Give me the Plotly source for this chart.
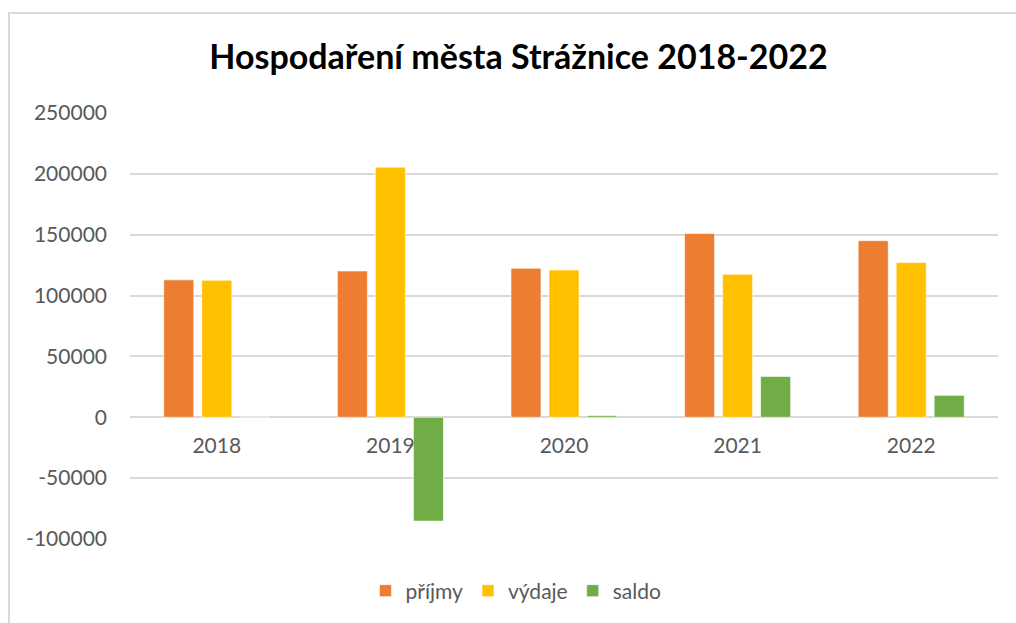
import plotly.graph_objects as go

years = ["2018", "2019", "2020", "2021", "2022"]
prijmy = [112900, 120200, 122400, 151100, 145100]
vydaje = [112600, 205500, 121000, 117500, 127100]
saldo = [300, -85300, 1400, 33600, 18000]
y_ticks = [-100000, -50000, 0, 50000, 100000, 150000, 200000, 250000]
y_labels = [str(v) for v in y_ticks]

W, H = 1016, 623
ML, MR, MT, MB = 130, 18, 113, 84
PW, PH = W - ML - MR, H - MT - MB

def px_x(p):
    return (p - ML) / PW

def px_y(p):
    return (H - MB - p) / PH

fig = go.Figure()
line = dict(color="rgba(255,255,255,0.6)", width=1)
fig.add_trace(go.Bar(x=years, y=prijmy, name="příjmy", marker=dict(color="#ED7D31", line=line)))
fig.add_trace(go.Bar(x=years, y=vydaje, name="výdaje", marker=dict(color="#FFC000", line=line)))
fig.add_trace(go.Bar(x=years, y=saldo, name="saldo", marker=dict(color="#70AD47", line=line)))

fig.update_layout(
    width=W, height=H,
    margin=dict(l=ML, r=MR, t=MT, b=MB),
    paper_bgcolor="white", plot_bgcolor="white",
    barmode="group", bargap=0.343, bargroupgap=0.21,
    font=dict(family="Lato", size=21, color="#595959"),
    title=dict(
        text="<b>Hospodaření města Strážnice 2018-2022</b>",
        font=dict(family="Lato", size=34, color="#000000"),
        x=518.5 / W, xref="container", xanchor="center",
        y=1 - 57 / H, yref="container", yanchor="middle",
    ),
    showlegend=True,
    legend=dict(
        orientation="h", x=px_x(516), xanchor="center",
        y=px_y(591), yanchor="middle",
        font=dict(family="Lato", size=21, color="#595959"),
        bgcolor="rgba(0,0,0,0)",
    ),
    xaxis=dict(
        anchor="free", position=100000 / 350000,
        showgrid=False, showline=False, zeroline=False,
        ticks="", ticklabelstandoff=14,
        tickfont=dict(family="Lato", size=21, color="#595959"),
    ),
    yaxis=dict(
        range=[-100000, 250000], tickvals=y_ticks, ticktext=y_labels,
        showgrid=True, gridcolor="#D9D9D9", gridwidth=1.5,
        zeroline=False, showline=False, ticks="",
        ticklabelstandoff=22,
        tickfont=dict(family="Lato", size=21, color="#595959"),
    ),
    shapes=[dict(
        type="rect", xref="paper", yref="paper",
        x0=px_x(9), x1=px_x(1030), y0=px_y(13), y1=px_y(640),
        line=dict(color="#D9D9D9", width=2), fillcolor="rgba(0,0,0,0)",
        layer="below",
    )],
)

fig.write_html(
    "out.html",
    config={"displayModeBar": False},
    post_script="document.body.style.margin='0';document.body.style.overflow='hidden';",
)
